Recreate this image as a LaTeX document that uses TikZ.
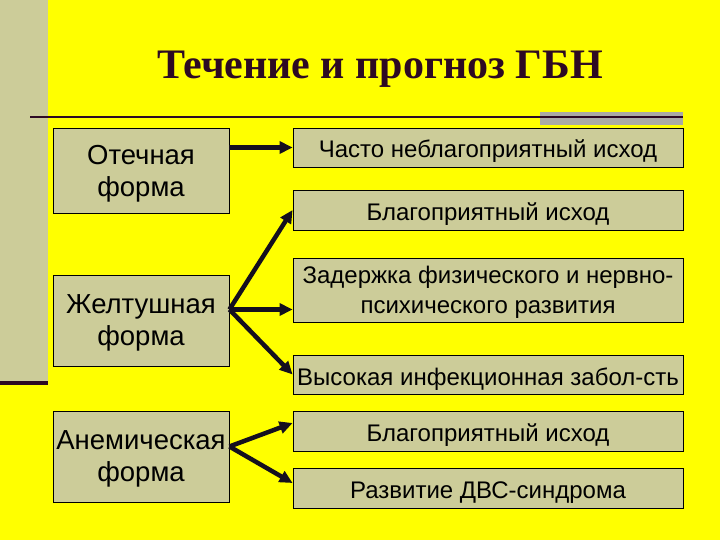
\documentclass[tikz,border=0pt]{standalone}
\usepackage{fontspec}
\setmainfont{Liberation Sans}
\newfontfamily\titlefont{Liberation Serif}
\usetikzlibrary{arrows.meta,calc}
\definecolor{bgyellow}{RGB}{255,255,0}
\definecolor{khaki}{RGB}{204,204,153}
\definecolor{maroon}{RGB}{45,10,35}
\definecolor{barcol}{RGB}{170,170,165}
\definecolor{arrcol}{RGB}{20,15,30}
\newcommand{\nodepth}[1]{\raisebox{0pt}[\height][0pt]{#1}}
\tikzset{
  leftbox/.style={draw=black, line width=0.8pt, fill=khaki, minimum width=176pt, inner sep=0pt, align=center, font=\fontsize{27.5}{32}\selectfont},
  rightbox/.style={draw=black, line width=0.8pt, fill=khaki, minimum width=390pt, inner sep=0pt, align=center, font=\fontsize{24}{30}\selectfont},
  oneline/.style={text height=21pt, text depth=0pt},
  bigarrow/.style={draw=arrcol, line width=4.5pt, -{Triangle[length=13pt,width=12pt]}}
}
\begin{document}
\begin{tikzpicture}[x=1pt,y=-1pt]
\useasboundingbox (0,0) rectangle (720,540);
\fill[bgyellow] (0,0) rectangle (720,540);
\fill[khaki] (0,0) rectangle (48,383);
\fill[maroon] (0,381) rectangle (48,385);
\fill[barcol] (540,112) rectangle (683,125);
\draw[maroon, line width=2pt] (30,117) -- (683,117);
\node[font=\titlefont\bfseries\fontsize{42}{50}\selectfont, text=maroon] (title) at (380,69) {Течение и прогноз ГБН};

\node[leftbox, minimum height=85pt] (b1) at (141,170.5) {Отечная\\\nodepth{форма}};
\node[leftbox, minimum height=91pt] (b2) at (141,320.5) {Желтушная\\\nodepth{форма}};
\node[leftbox, minimum height=91pt] (b3) at (141,456.5) {Анемическая\\\nodepth{форма}};

\node[rightbox, oneline, minimum height=39pt] (r1) at (488,147.5) {Часто неблагоприятный исход};
\node[rightbox, oneline, minimum height=40pt] (r2) at (488,210) {Благоприятный исход};
\node[rightbox, minimum height=64pt] (r3) at (488,290) {Задержка физического и нервно-\\\nodepth{психического развития}};
\node[rightbox, oneline, minimum height=39pt] (r4) at (488,374.5) {Высокая инфекционная забол-сть};
\node[rightbox, oneline, minimum height=40pt] (r5) at (488,431) {Благоприятный исход};
\node[rightbox, oneline, minimum height=40pt] (r6) at (488,488) {Развитие ДВС-синдрома};

\coordinate (s2) at ($(b2.east)+(0,-11)$);
\coordinate (s3) at ($(b3.east)+(0,-10)$);
\coordinate (t5) at ($(r5.west)+(0,-8)$);
\coordinate (t6) at ($(r6.west)+(0,-5)$);

\draw[bigarrow] (b1.east |- r1.west) -- (r1.west);
\draw[bigarrow] (s2) -- (r2.west);
\draw[bigarrow] (s2) -- (r3.west |- s2);
\draw[bigarrow] (s2) -- (r4.west);
\draw[bigarrow] (s3) -- (t5);
\draw[bigarrow] (s3) -- (t6);
\end{tikzpicture}
\end{document}
